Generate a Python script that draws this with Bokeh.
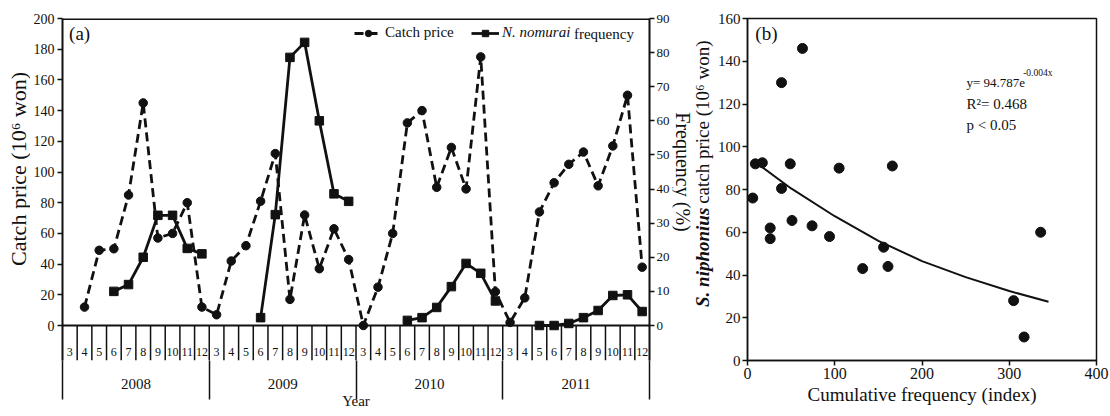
import math
from bokeh.plotting import figure
from bokeh.models import (Range1d, LinearAxis, FixedTicker, Span, Label, Legend,
                          LegendItem)
from bokeh.layouts import row
from bokeh.embed import file_html
from bokeh.resources import INLINE
from bokeh.core.properties import value

NaN = float("nan")
FONT = "Liberation Serif"
INK = "#111111"

# ---------------- data: panel (a) ----------------
years = ["2008", "2009", "2010", "2011"]
months = ["3", "4", "5", "6", "7", "8", "9", "10", "11", "12"]

price_2008 = [NaN, 12, 49, 50, 85, 145, 57, 60, 80, 12]
price_2009 = [7, 42, 52, 81, 112, 17, 72, 37, 63, 43]
price_2010 = [0, 25, 60, 132, 140, 90, 116, 89, 175, 22]
price_2011 = [2, 18, 74, 93, 105, 113, 91, 117, 150, 38]

freq_2008 = [NaN, NaN, NaN, 10, 12, 20, 32.3, 32.3, 22.6, 21]
freq_2009 = [NaN, NaN, NaN, 2.3, 32.5, 78.6, 83, 60, 38.6, 36.4]
freq_2010 = [NaN, NaN, NaN, 1.5, 2.3, 5.3, 11.4, 18.2, 15.3, 7.2]
freq_2011 = [NaN, NaN, 0, 0, 0.6, 2.3, 4.4, 8.8, 9, 4.1]

# ---------------- data: panel (b) ----------------
cum_freq = [6, 9, 17, 26, 26, 39, 39, 49, 51, 63, 74, 94, 105, 132, 156, 161, 166, 305, 317, 336]
catch_b = [76, 92, 92.5, 62, 57, 130, 80.5, 92, 65.5, 146, 63, 58, 90, 43, 53, 44, 91, 28, 11, 60]
fit_x = [15, 50, 100, 150, 200, 250, 300, 345]
fit_y = [91, 80.5, 67.5, 56, 46.5, 39, 32.5, 27.5]

TOP, BOTTOM, H = 18, 56, 416


def style_axis(ax, size="14px"):
    ax.minor_tick_line_color = None
    ax.major_tick_in = 0
    ax.major_tick_out = 5
    ax.major_tick_line_width = 1.5
    ax.axis_line_width = 2
    ax.axis_line_color = INK
    ax.major_tick_line_color = INK
    ax.major_label_text_font = FONT
    ax.major_label_text_font_size = size
    ax.major_label_text_color = INK
    ax.major_label_standoff = 3
    ax.axis_label_text_font = FONT
    ax.axis_label_text_font_style = "normal"
    ax.axis_label_text_color = INK
    ax.axis_label_text_font_size = "20px"
    ax.axis_label_standoff = 3


def strip(width, y_range):
    s = figure(width=width, height=H, x_range=Range1d(0, 1), y_range=y_range,
               output_backend="svg", toolbar_location=None, x_axis_location=None,
               y_axis_location=None, min_border_left=0, min_border_right=0,
               min_border_top=TOP, min_border_bottom=BOTTOM)
    s.outline_line_color = None
    s.grid.visible = False
    return s


# ---------------- panel (a) ----------------
price = price_2008 + price_2009 + price_2010 + price_2011
freq = freq_2008 + freq_2009 + freq_2010 + freq_2011
per_year = len(months)
n_cat = len(years) * per_year
xc = [i + 0.5 for i in range(n_cat)]

Y_BOTTOM = -22.8
pa = figure(width=642, height=H, x_range=Range1d(0, n_cat), y_range=Range1d(Y_BOTTOM, 200),
            output_backend="svg", toolbar_location=None, x_axis_location=None,
            min_border_left=31, min_border_right=22, min_border_top=TOP, min_border_bottom=BOTTOM)
pa.outline_line_color = None
pa.grid.visible = False

ya = pa.yaxis[0]
style_axis(ya)
ya.ticker = FixedTicker(ticks=list(range(0, 201, 20)))

pa.extra_y_ranges = {"freq": Range1d(Y_BOTTOM * 90 / 200, 90)}
ra = LinearAxis(y_range_name="freq", ticker=FixedTicker(ticks=list(range(0, 91, 10))))
style_axis(ra, "13px")
ra.major_label_standoff = 2
pa.add_layout(ra, "right")

# category axis below: year labels at group centres, long separators at year bounds
year_centres = [k * per_year + per_year / 2 for k in range(len(years))]
year_bounds = [k * per_year for k in range(len(years) + 1)]
xa = LinearAxis(ticker=FixedTicker(ticks=year_centres, minor_ticks=year_bounds))
xa.axis_line_color = None
xa.major_tick_in = 0
xa.major_tick_out = 0
xa.major_tick_line_color = None
xa.minor_tick_in = 0
xa.minor_tick_out = 39
xa.minor_tick_line_color = INK
xa.minor_tick_line_width = 1.5
xa.major_label_overrides = {float(c): y for c, y in zip(year_centres, years)}
xa.major_label_text_font = FONT
xa.major_label_text_font_size = "15px"
xa.major_label_text_color = INK
xa.major_label_standoff = -21
xa.axis_label = "Year"
xa.axis_label_text_font = FONT
xa.axis_label_text_font_style = "normal"
xa.axis_label_text_font_size = "15px"
xa.axis_label_text_color = INK
xa.axis_label_standoff = 1
pa.add_layout(xa, "below")

pa.add_layout(Span(location=200, dimension="width", line_color=INK, line_width=3))
pa.add_layout(Span(location=0, dimension="width", line_color=INK, line_width=2))

sep_x = [b for b in range(1, n_cat)]
pa.segment(x0=sep_x, y0=[0] * len(sep_x), x1=sep_x, y1=[Y_BOTTOM] * len(sep_x),
           line_color=INK, line_width=1.5)
pa.text(x=xc, y=[-17] * n_cat, text=months * len(years), text_font=value(FONT),
        text_font_size="12px", text_align="center", text_baseline="middle", text_color=INK)

# series
r_pl = pa.line(xc, price, line_color=INK, line_width=2.8, line_dash="9 5")
r_pc = pa.scatter(xc, price, marker="circle", size=8.5, fill_color=INK, line_color=INK)
r_fl = pa.line(xc, freq, y_range_name="freq", line_color=INK, line_width=2.8)
r_fs = pa.scatter(xc, freq, y_range_name="freq", marker="square", size=8.5,
                  fill_color=INK, line_color=INK)

leg_common = dict(orientation="horizontal", padding=0, spacing=0, margin=0,
                  glyph_width=28, glyph_height=16, label_height=16, label_standoff=3,
                  border_line_color=None, background_fill_alpha=0,
                  label_text_font=FONT, label_text_font_size="15px", label_text_color=INK)
leg1 = Legend(items=[LegendItem(label="Catch price", renderers=[r_pl, r_pc])],
              location=(292, 319), **leg_common)
leg2 = Legend(items=[LegendItem(label="N. nomurai", renderers=[r_fl, r_fs])],
              location=(409, 319), label_text_font_style="italic", **leg_common)
pa.add_layout(leg1)
pa.add_layout(leg2)
pa.add_layout(Label(x=34.85, y=190.2, text="frequency", text_font=FONT, text_font_size="15px",
                    text_baseline="middle", text_align="left", text_color=INK))
pa.add_layout(Label(x=0.45, y=190.2, text="(a)", text_font=FONT, text_font_size="19px",
                    text_baseline="middle", text_align="left", text_color=INK))

# ---------------- axis titles in narrow strips ----------------
left_strip = strip(30, pa.y_range)
left_strip.text(x=[0.6], y=[102], text=["Catch price (10\u2076 won)"], angle=math.pi / 2,
                text_font=value(FONT), text_font_size="22px", text_align="center",
                text_baseline="middle", text_color=INK)

pb_y = Range1d(0, 160)
mid_strip = strip(42, pa.extra_y_ranges["freq"])
mid_strip.extra_y_ranges = {"b": pb_y}
mid_strip.text(x=[0.26], y=[45], text=["Frequency (%)"], angle=-math.pi / 2,
               text_font=value(FONT), text_font_size="20px", text_align="center",
               text_baseline="middle", text_color=INK)
mid_strip.text(x=[0.71], y=[71.5], y_range_name="b", text=["S. niphonius"], angle=math.pi / 2,
               text_font=value(FONT), text_font_size="19px", text_font_style="bold italic",
               text_align="right", text_baseline="middle", text_color=INK)
mid_strip.text(x=[0.71], y=[73.3], y_range_name="b", text=["catch price (10\u2076 won)"],
               angle=math.pi / 2, text_font=value(FONT), text_font_size="19px",
               text_align="left", text_baseline="middle", text_color=INK)

# ---------------- panel (b) ----------------
pb = figure(width=396, height=H, x_range=Range1d(0, 400), y_range=pb_y,
            output_backend="svg", toolbar_location=None,
            min_border_left=30, min_border_right=14, min_border_top=TOP, min_border_bottom=BOTTOM)
pb.grid.visible = False
pb.outline_line_color = INK
pb.outline_line_width = 1.5
for ax in (pb.xaxis[0], pb.yaxis[0]):
    style_axis(ax, "16px")
    ax.axis_line_width = 1.5
    ax.major_label_standoff = 2
pb.yaxis[0].major_label_text_font_size = "15px"
pb.xaxis[0].ticker = FixedTicker(ticks=[0, 100, 200, 300, 400])
pb.yaxis[0].ticker = FixedTicker(ticks=list(range(0, 161, 20)))
pb.xaxis[0].axis_label = "Cumulative frequency (index)"
pb.xaxis[0].axis_label_text_font_size = "19px"
pb.xaxis[0].axis_label_standoff = 2

pb.line(fit_x, fit_y, line_color=INK, line_width=2)
pb.scatter(cum_freq, catch_b, marker="circle", size=10, fill_color=INK, line_color=INK)

pb.add_layout(Label(x=9, y=153, text="(b)", text_font=FONT, text_font_size="19px",
                    text_baseline="middle", text_align="left", text_color=INK))
pb.add_layout(Label(x=251, y=130, text="y= 94.787e", text_font=FONT, text_font_size="13px",
                    text_baseline="middle", text_align="left", text_color=INK))
pb.add_layout(Label(x=316, y=134.3, text="-0.004x", text_font=FONT, text_font_size="9.5px",
                    text_baseline="middle", text_align="left", text_color=INK))
pb.add_layout(Label(x=251, y=120.2, text="R\u00b2= 0.468", text_font=FONT, text_font_size="15px",
                    text_baseline="middle", text_align="left", text_color=INK))
pb.add_layout(Label(x=251, y=110, text="p < 0.05", text_font=FONT, text_font_size="15px",
                    text_baseline="middle", text_align="left", text_color=INK))

layout = row(left_strip, pa, mid_strip, pb, spacing=0)
open("out.html", "w").write(file_html(layout, INLINE))
